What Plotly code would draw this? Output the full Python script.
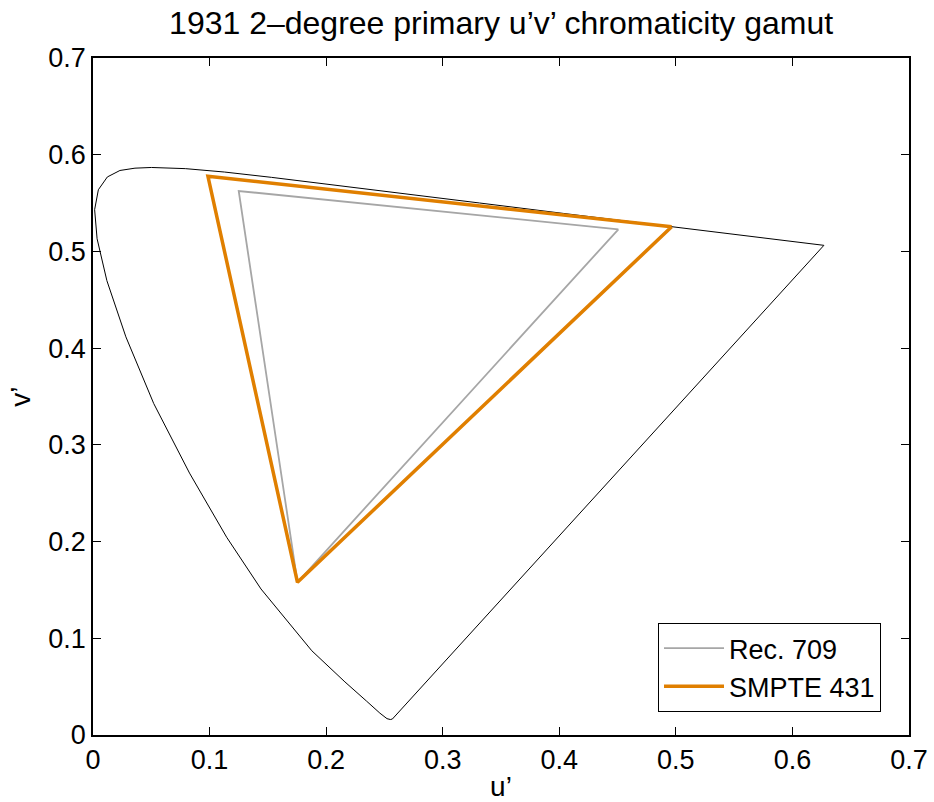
import plotly.graph_objects as go

# Spectral locus (CIE 1931 2-degree) in u'v', 380 nm ... 700 nm, then closed by the purple line
locus_u = [0.2568, 0.2558, 0.2551, 0.2522, 0.2461, 0.2347, 0.2161, 0.1877, 0.1441, 0.1147,
           0.0828, 0.0521, 0.0282, 0.0119, 0.0035, 0.0014, 0.0046, 0.0123, 0.0231, 0.0360,
           0.0501, 0.0792, 0.1127, 0.1531, 0.2026, 0.2623, 0.3315, 0.4035, 0.4692, 0.5203,
           0.5565, 0.5830, 0.6005, 0.6109, 0.6199, 0.6250, 0.6270, 0.2568]
locus_v = [0.0165, 0.0159, 0.0160, 0.0169, 0.0226, 0.0350, 0.0549, 0.0871, 0.1510, 0.2044,
           0.2708, 0.3427, 0.4117, 0.4698, 0.5131, 0.5432, 0.5638, 0.5770, 0.5837, 0.5861,
           0.5868, 0.5856, 0.5821, 0.5766, 0.5694, 0.5604, 0.5501, 0.5393, 0.5296, 0.5219,
           0.5165, 0.5125, 0.5099, 0.5084, 0.5070, 0.5065, 0.5063, 0.0165]

# Gamut triangles (R, G, B, R)
rec709_u = [0.4507, 0.1250, 0.1754, 0.4507]
rec709_v = [0.5229, 0.5625, 0.1579, 0.5229]
smpte431_u = [0.4964, 0.0986, 0.1754, 0.4964]
smpte431_v = [0.5255, 0.5777, 0.1579, 0.5255]

ticks = [0, 0.1, 0.2, 0.3, 0.4, 0.5, 0.6, 0.7]
tick_text = ["0", "0.1", "0.2", "0.3", "0.4", "0.5", "0.6", "0.7"]

fig = go.Figure()
fig.add_trace(go.Scatter(x=locus_u, y=locus_v, mode="lines", showlegend=False,
                         line=dict(color="black", width=1)))
fig.add_trace(go.Scatter(x=rec709_u, y=rec709_v, mode="lines", name="Rec. 709",
                         line=dict(color="#a6a6a6", width=1.8)))
fig.add_trace(go.Scatter(x=smpte431_u, y=smpte431_v, mode="lines", name="SMPTE 431",
                         line=dict(color="#e07f00", width=3.5)))

axis_common = dict(range=[0, 0.7], tickvals=ticks, ticktext=tick_text, ticks="inside",
                   ticklen=8, tickwidth=1, tickcolor="black", showline=True, linecolor="black",
                   linewidth=1.5, mirror="ticks", showgrid=False, zeroline=False,
                   automargin=False, tickfont=dict(size=27, color="black"))

fig.update_layout(
    width=934, height=802,
    margin=dict(l=93, r=25, t=58, b=67),
    paper_bgcolor="white", plot_bgcolor="white",
    font=dict(family="Liberation Sans, Arial, sans-serif", color="black"),
    title=dict(text="1931 2\u2013degree primary u\u2019v\u2019 chromaticity gamut",
               x=0.5365, xanchor="center", y=0.971, yanchor="middle",
               font=dict(size=32, color="black")),
    xaxis=dict(axis_common, title=dict(text="u\u2019", font=dict(size=28), standoff=8)),
    yaxis=dict(axis_common, title=dict(text="v\u2019", font=dict(size=28), standoff=10)),
    legend=dict(x=0.9657, y=0.034, xanchor="right", yanchor="bottom",
                bordercolor="black", borderwidth=1, bgcolor="white", itemwidth=60,
                font=dict(size=27, color="black"), tracegroupgap=0),
)

fig.write_html("out.html")
